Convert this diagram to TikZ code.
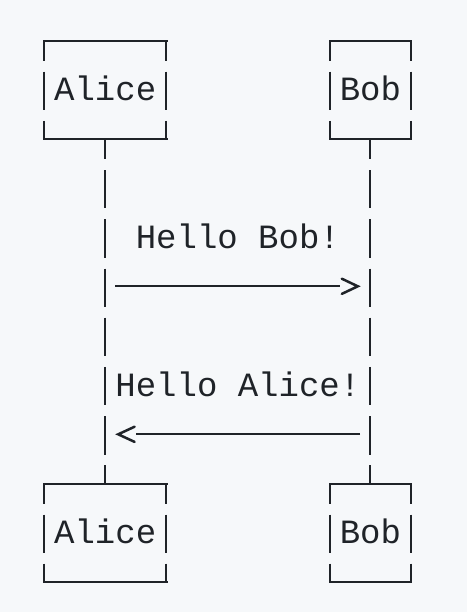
\documentclass[tikz,border=0pt]{standalone}
\usepackage{fontspec}
\newfontfamily\diagmono{Liberation Mono}
\usetikzlibrary{calc}
\definecolor{bgc}{HTML}{F6F8FA}
\definecolor{ink}{HTML}{1F2328}
\begin{document}
\begin{tikzpicture}[x=1pt,y=-1pt,
  every node/.style={inner sep=0pt, outer sep=0pt, text=ink,
    font=\diagmono\fontsize{34pt}{40pt}\selectfont},
  pbox/.style={minimum height=98.4pt, text height=26pt, text depth=4.8pt},
  hline/.style={draw=ink, line width=2.2pt, line cap=rect},
  vline/.style={draw=ink, line width=2.1pt, dash pattern=on 38.4pt off 10.8pt, dash phase=18.5pt},
  msgline/.style={draw=ink, line width=2.2pt},
  chev/.style={draw=ink, line width=2.5pt, line join=miter, line cap=round},
  lbl/.style={anchor=base west}]
\fill[bgc] (0,0) rectangle (467,612);
\useasboundingbox (0,0) rectangle (467,612);

% participants
\node[pbox, minimum width=122.4pt] (A1) at (105.2,90.2) {Alice};
\node[pbox, minimum width=81.6pt]  (B1) at (370.4,90.2) {Bob};
\node[pbox, minimum width=122.4pt] (A2) at (105.2,533.0) {Alice};
\node[pbox, minimum width=81.6pt]  (B2) at (370.4,533.0) {Bob};

\foreach \n in {A1,B1,A2,B2}{
  \draw[hline] (\n.north west) -- (\n.north east);
  \draw[hline] (\n.south west) -- (\n.south east);
  \draw[vline] (\n.north west) -- (\n.south west);
  \draw[vline] (\n.north east) -- (\n.south east);
}

% lifelines
\draw[vline] (A1.south) -- (A2.north);
\draw[vline] (B1.south) -- (B2.north);

% message anchors on the lifelines
\coordinate (m1a) at (105.2,286.3);
\coordinate (m1b) at (370.4,286.3);
\coordinate (m2b) at (370.4,434.3);
\coordinate (m2a) at (105.2,434.3);

% message 1: Alice -> Bob
\node[lbl] (t1) at (135.8,248.4) {Hello Bob!};
\draw[msgline, shorten <=10.2pt, shorten >=30.6pt] (m1a) -- (m1b);
\draw[chev] ($(m1b)+(-28.6,-7.6)$) -- ($(m1b)+(-12.6,0)$) -- ($(m1b)+(-28.6,7.6)$);

% message 2: Bob -> Alice
\node[lbl] (t2) at (115.4,396.0) {Hello Alice!};
\draw[msgline, shorten <=10.2pt, shorten >=30.6pt] (m2b) -- (m2a);
\draw[chev] ($(m2a)+(29.4,-7.6)$) -- ($(m2a)+(13.0,0)$) -- ($(m2a)+(29.4,7.6)$);
\end{tikzpicture}
\end{document}
